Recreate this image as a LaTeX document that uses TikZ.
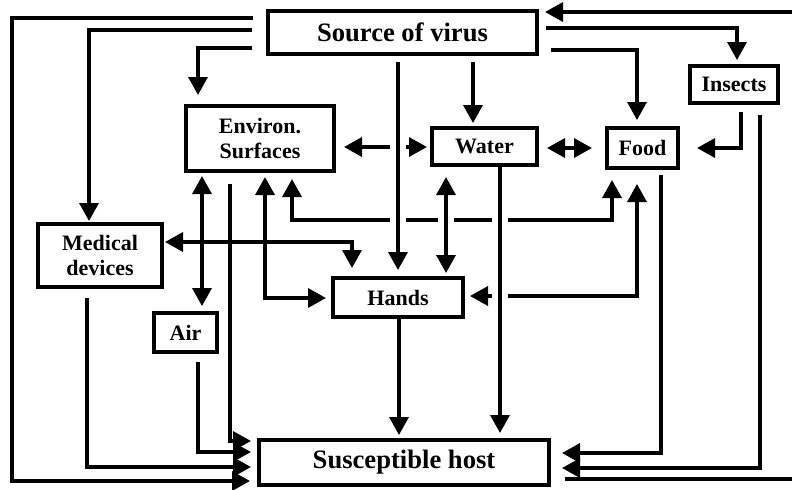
\documentclass[tikz,border=0pt]{standalone}
\usepackage{fontspec}
\setmainfont{Liberation Serif}
\usetikzlibrary{arrows.meta,calc,backgrounds}
\tikzset{
  box/.style={draw, line width=2pt, fill=white, inner sep=0pt, align=center, font=\bfseries\fontsize{11}{12.5}\selectfont},
  bigbox/.style={box, font=\bfseries\fontsize{13.3}{15}\selectfont},
  link/.style={line width=1.7pt},
  arr/.style={link, -{Triangle[length=9pt,width=9.5pt]}},
  dbl/.style={link, {Triangle[length=9pt,width=9.5pt]}-{Triangle[length=9pt,width=9.5pt]}},
  hop/.style={preaction={draw=white, line width=8pt, -}}
}
\begin{document}
\begin{tikzpicture}[x=0.5pt, y=-0.5pt]
\useasboundingbox (0,0) rectangle (792,489);

\node[bigbox, minimum width=134.5pt, minimum height=21.5pt] (src) at (402.5,32.5) {Source of virus};
\node[box, minimum width=74pt, minimum height=32.5pt] (env) at (260,138.5) {Environ.\\Surfaces};
\node[box, minimum width=52.5pt, minimum height=18.5pt] (wat) at (484.5,146.5) {Water};
\node[box, minimum width=35.5pt, minimum height=20pt] (food) at (642.5,148) {Food};
\node[box, minimum width=44pt, minimum height=18.5pt] (ins) at (734,84.5) {Insects};
\node[box, minimum width=62pt, minimum height=31.5pt] (med) at (100,255.5) {Medical\\devices};
\node[box, minimum width=65pt, minimum height=19.5pt] (hands) at (398,297.5) {Hands};
\node[box, minimum width=31.5pt, minimum height=19.5pt] (air) at (185.5,332.5) {Air};
\node[bigbox, minimum width=145pt, minimum height=22.5pt] (host) at (404,462.5) {Susceptible host};

\coordinate (lft) at (12,481);
\coordinate (rtop) at (792,12);
\coordinate (rbot) at (792,479);

\begin{scope}[on background layer]
\draw[arr, shorten >=3.5pt] ($(src.west)+(-13,-14.5)$) -| (lft) -- (host.west |- lft);
\draw[arr] ($(src.west)+(-14,-2.5)$) -| ($(med.north)+(-11,-1)$);
\draw[arr] ($(src.west)+(-14,15.5)$) -| ($(env.north)+(-62,-9)$);
\draw[arr] ($(src.south)+(70.5,6)$) -- ($(wat.north)+(-11.5,-3)$);
\draw[arr] ($(src.east)+(12,17.5)$) -| ($(food.north)+(-5.5,-6)$);
\draw[arr] ($(src.east)+(7,-4.5)$) -| ($(ins.north)+(3,-4)$);
\draw[arr] (rtop) -- ($(src.east |- rtop)+(6,0)$);

\draw[arr] ($(ins.south)+(7,7)$) |- ($(food.east)+(17,0)$);
\draw[arr] ($(ins.south)+(26,10)$) |- ($(host.east)+(11,5.5)$);
\draw[arr] ($(food.south)+(18.5,5)$) |- ($(host.east)+(11,-9.5)$);
\draw[link] ($(host.east)+(14,16.5)$) -- (rbot);

\draw[dbl] ($(env.east)+(8,8.5)$) -- ($(wat.west)+(-3,0.5)$);
\draw[dbl] ($(wat.east)+(8,1.5)$) -- ($(food.west)+(-13,0)$);
\draw[dbl] ($(env.south)+(32,6)$) |- ($(food.south)+(-30.5,50)$) -- ($(food.south)+(-30.5,10)$);
\draw[dbl] ($(hands.east)+(5,-1.5)$) -| ($(food.south)+(-5.5,14)$);
\draw[dbl] ($(env.south)+(5,4)$) |- ($(hands.west)+(-5,0.5)$);
\draw[dbl] ($(env.south)+(-58,3)$) -- ($(air.north)+(16.5,-5)$);
\draw[dbl] ($(med.east)+(1,-13.5)$) -| ($(hands.north)+(-46,-8)$);

\draw[arr] ($(env.south)+(-30,11)$) |- ($(host.west)+(-6,-21.5)$);
\draw[arr] ($(air.south)+(12.5,8)$) |- ($(host.west)+(-6,-10.5)$);
\draw[arr] ($(med.south)+(-13,9)$) |- ($(host.west)+(-6,4.5)$);
\draw[arr] ($(hands.south)+(1,0)$) -- ($(host.north)+(-5,-3)$);

\draw[arr, hop] ($(src.south)+(-4.5,6)$) -- ($(hands.north)+(0,-6)$);
\draw[arr, hop] ($(wat.south)+(15.5,0)$) -- ($(host.north)+(96,-5)$);
\draw[dbl, hop] ($(wat.south)+(-38.5,10)$) -- ($(hands.north)+(48,-3)$);
\end{scope}
\end{tikzpicture}
\end{document}
